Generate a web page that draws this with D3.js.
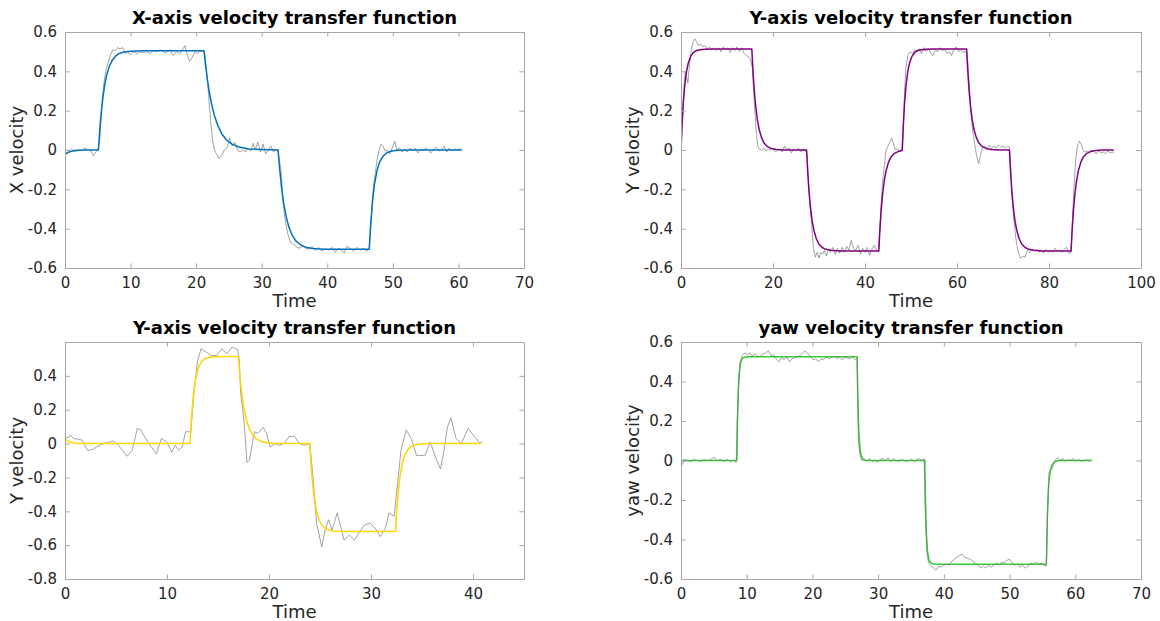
<!DOCTYPE html>
<html><head><meta charset="utf-8">
<script src="https://cdn.jsdelivr.net/npm/d3@7"></script>
<style>
html,body{margin:0;padding:0;background:#fff;}
svg{display:block;font-family:"DejaVu Sans",sans-serif;}
</style></head>
<body>
<svg id="chart" width="1160" height="621"></svg>
<script>
// ---------- Panel 1 : X-axis ----------
const p1Titles = ["X-axis velocity transfer function", "X velocity", "Time"];
const p1XTicks = [0, 10, 20, 30, 40, 50, 60, 70];
const p1YTicks = [-0.6, -0.4, -0.2, 0, 0.2, 0.4, 0.6];
const p1ModelT = [0,0.5,1,1.5,2,3,4,5.1,5.3,5.5,5.8,6.1,6.4,6.8,7.2,7.7,8.3,9,10,12,21.2,21.4,21.7,22,22.4,22.8,23.3,23.9,24.6,25.4,26.5,28,32.5,32.7,33,33.3,33.7,34.1,34.6,35.2,35.9,36.7,37.8,39.5,46.4,46.6,46.9,47.2,47.6,48,48.5,49.1,49.8,50.8,52.5,60.5];
const p1ModelV = [-0.022,-0.012,-0.006,-0.003,-0.0015,0,0,0,0.101,0.181,0.273,0.339,0.386,0.429,0.456,0.477,0.491,0.498,0.502,0.505,0.505,0.442,0.362,0.296,0.227,0.174,0.125,0.083,0.052,0.031,0.015,0.005,0,-0.084,-0.184,-0.261,-0.335,-0.387,-0.430,-0.462,-0.482,-0.494,-0.501,-0.505,-0.505,-0.387,-0.259,-0.174,-0.102,-0.060,-0.031,-0.014,-0.005,-0.0015,0,0];
const p1DataT = [0,0.5,1,1.5,2,2.5,3,3.5,4,4.3,4.7,5,5.3,5.6,5.9,6.2,6.6,7,7.3,7.7,8,8.4,8.8,9.2,9.6,10,10.5,11,11.5,12,12.5,13,13.5,14,14.5,15,15.5,16,16.5,17,17.5,18,18.3,18.6,19,19.4,19.8,20.2,20.6,21,21.3,21.6,21.9,22.2,22.5,22.8,23.1,23.5,23.9,24.3,24.7,25.1,25.5,25.9,26.3,26.7,27.1,27.5,27.9,28.3,28.7,29,29.4,29.8,30.2,30.6,31,31.4,31.8,32.2,32.5,32.7,33,33.3,33.6,34,34.4,34.8,35.2,35.7,36.2,36.7,37.2,37.7,38.2,38.7,39.2,39.7,40.2,40.7,41.2,41.7,42.2,42.6,43,43.5,44,44.5,45,45.5,46,46.4,46.7,47,47.3,47.6,47.9,48.2,48.5,48.8,49.1,49.5,49.9,50.3,50.6,51,51.4,51.8,52.2,52.6,53,53.4,53.8,54.2,54.6,55,55.4,55.8,56.2,56.6,57,57.4,57.8,58.2,58.6,59,59.4,59.8,60.2,60.5];
const p1DataV = [-0.015,-0.01,0.005,-0.01,0,-0.005,0.01,0,-0.005,-0.03,-0.01,0,0.05,0.22,0.33,0.4,0.45,0.49,0.51,0.505,0.52,0.515,0.52,0.49,0.5,0.485,0.5,0.49,0.5,0.495,0.5,0.49,0.505,0.5,0.51,0.5,0.495,0.51,0.48,0.5,0.49,0.515,0.53,0.49,0.45,0.47,0.5,0.49,0.505,0.5,0.49,0.4,0.28,0.15,0.05,0,-0.02,-0.045,-0.03,0,0.01,0.06,0.02,0.04,0,-0.01,0,-0.01,0.01,-0.005,0.035,0,0.04,-0.01,0.03,-0.02,0,0.02,-0.01,0,-0.01,-0.05,-0.12,-0.28,-0.36,-0.43,-0.47,-0.48,-0.49,-0.5,-0.49,-0.5,-0.505,-0.49,-0.51,-0.495,-0.515,-0.5,-0.51,-0.495,-0.52,-0.5,-0.51,-0.525,-0.49,-0.5,-0.515,-0.495,-0.51,-0.5,-0.515,-0.5,-0.35,-0.2,-0.12,-0.05,0,0.03,0.02,-0.005,0,-0.02,0.01,0.045,0,0.01,-0.01,0.005,-0.01,0.01,-0.005,0.01,-0.015,0.005,-0.005,0.01,0,-0.015,0.005,0.015,-0.005,0,0.02,-0.01,0.01,-0.005,0.005,0,0.005,0];

// ---------- Panel 2 : Y-axis ----------
const p2Titles = ["Y-axis velocity transfer function", "Y velocity", "Time"];
const p2XTicks = [0, 20, 40, 60, 80, 100];
const p2YTicks = [-0.6, -0.4, -0.2, 0, 0.2, 0.4, 0.6];
const p2ModelT = [0,0.2,0.5,0.8,1.2,1.6,2.1,2.7,3.4,4.2,5.3,7,15.4,15.6,15.9,16.2,16.6,17,17.5,18.1,18.8,19.6,20.7,22.4,27.3,27.5,27.8,28.1,28.5,28.9,29.4,30,30.7,31.5,32.6,34.3,43,43.2,43.5,43.8,44.2,44.6,45.1,45.7,46.4,47.2,48.1,48.3,48.6,48.9,49.3,49.7,50.2,50.8,51.5,52.3,53.4,55.1,62.1,62.3,62.6,62.9,63.3,63.7,64.2,64.8,65.5,66.3,67.4,69.1,71.4,71.6,71.9,72.2,72.6,73,73.5,74.1,74.8,75.6,76.7,78.4,84.8,85,85.3,85.6,86,86.4,86.9,87.5,88.2,89,90.1,91.8,94.1];
const p2ModelV = [0,0.113,0.239,0.324,0.399,0.444,0.476,0.496,0.506,0.51,0.512,0.513,0.513,0.42,0.311,0.23,0.154,0.104,0.063,0.034,0.017,0.008,0.003,0,0,-0.093,-0.202,-0.283,-0.359,-0.409,-0.45,-0.479,-0.496,-0.505,-0.51,-0.513,-0.513,-0.42,-0.311,-0.23,-0.154,-0.104,-0.063,-0.034,-0.017,-0.008,-0.003,0.113,0.239,0.324,0.399,0.444,0.476,0.496,0.506,0.51,0.512,0.513,0.513,0.42,0.311,0.23,0.154,0.104,0.063,0.034,0.017,0.008,0.003,0,0,-0.093,-0.202,-0.283,-0.359,-0.409,-0.45,-0.479,-0.496,-0.505,-0.51,-0.513,-0.513,-0.42,-0.311,-0.23,-0.154,-0.104,-0.063,-0.034,-0.017,-0.008,-0.003,0,0];
const p2DataT = [0,0.3,0.6,0.9,1.2,1.5,1.8,2.2,2.6,3,3.4,3.8,4.2,4.7,5.2,5.7,6.2,6.7,7.2,7.7,8.2,8.7,9.2,9.7,10.2,10.7,11.2,11.7,12.2,12.7,13.2,13.7,14.2,14.7,15.1,15.5,15.8,16.1,16.4,16.7,17,17.5,18,18.5,19,19.5,20,20.5,21,21.5,22,22.5,23,23.5,24,24.5,25,25.5,26,26.5,27,27.4,27.7,28,28.4,28.8,29.2,29.6,30,30.4,30.8,31.2,31.6,32,32.5,33,33.5,34,34.5,35,35.5,36,36.5,37,37.5,38,38.5,39,39.5,40,40.5,41,41.5,42,42.5,42.9,43.2,43.5,43.8,44.2,44.6,45,45.4,45.8,46.2,46.6,47,47.5,48,48.3,48.6,48.9,49.3,49.8,50.3,50.8,51.3,51.8,52.3,52.8,53.3,53.8,54.3,54.8,55.3,55.8,56.3,56.8,57.3,57.8,58.3,58.8,59.3,59.8,60.3,60.8,61.3,61.8,62.2,62.6,63,63.4,63.8,64.2,64.7,65.1,65.5,66,66.5,67,67.5,68,68.5,69,69.5,70,70.5,71,71.4,71.7,72,72.4,72.8,73.3,73.8,74.3,74.8,75.3,75.8,76.3,76.8,77.3,77.8,78.3,78.8,79.3,79.8,80.3,80.8,81.3,81.8,82.3,82.8,83.3,83.8,84.3,84.8,85.1,85.4,85.8,86.2,86.6,87,87.4,87.8,88.3,88.8,89.3,89.8,90.3,90.8,91.3,91.8,92.3,92.8,93.3,93.8,94.1];
const p2DataV = [0,0.15,0.3,0.4,0.37,0.34,0.42,0.5,0.55,0.565,0.55,0.53,0.54,0.525,0.53,0.515,0.525,0.51,0.52,0.505,0.52,0.5,0.525,0.51,0.52,0.495,0.52,0.505,0.525,0.5,0.52,0.49,0.48,0.475,0.46,0.42,0.3,0.18,0.08,0.02,0.005,0,0.01,-0.005,0.005,0,0.01,-0.01,0,0.005,-0.01,0.02,0,0.01,-0.015,0.005,-0.005,0.01,-0.01,0.005,0,-0.02,-0.15,-0.27,-0.38,-0.5,-0.545,-0.52,-0.55,-0.52,-0.53,-0.51,-0.54,-0.505,-0.52,-0.495,-0.53,-0.5,-0.525,-0.495,-0.52,-0.49,-0.51,-0.46,-0.5,-0.51,-0.485,-0.53,-0.5,-0.52,-0.495,-0.535,-0.505,-0.485,-0.51,-0.52,-0.42,-0.28,-0.17,-0.08,0,0.02,0.04,0.06,0.03,0,0.005,-0.005,0,0.08,0.3,0.42,0.48,0.5,0.49,0.51,0.5,0.515,0.49,0.52,0.5,0.515,0.49,0.48,0.51,0.5,0.52,0.505,0.51,0.49,0.5,0.48,0.51,0.525,0.5,0.51,0.495,0.5,0.49,0.35,0.2,0.1,0.035,-0.02,-0.07,-0.03,0.01,0.02,0.01,0.025,0.005,0.02,0.01,0.025,0.015,0.02,0.01,0.02,0.015,-0.1,-0.25,-0.36,-0.45,-0.52,-0.55,-0.54,-0.545,-0.51,-0.52,-0.505,-0.515,-0.505,-0.52,-0.51,-0.525,-0.505,-0.52,-0.51,-0.52,-0.5,-0.515,-0.51,-0.52,-0.505,-0.495,-0.525,-0.52,-0.35,-0.2,-0.05,0.02,0.045,0.03,0,-0.01,-0.005,-0.015,0,-0.01,-0.02,-0.005,-0.015,-0.01,-0.02,-0.005,-0.015,-0.01,-0.015];

// ---------- Panel 3 : Y-axis (second run) ----------
const p3Titles = ["Y-axis velocity transfer function", "Y velocity", "Time"];
const p3XTicks = [0, 10, 20, 30, 40];
const p3YTicks = [-0.8, -0.6, -0.4, -0.2, 0, 0.2, 0.4];
const p3ModelT = [0,0.2,0.4,0.7,1,1.5,12.26,12.36,12.46,12.61,12.76,12.96,13.16,13.46,13.86,14.46,15.26,17,17.15,17.3,17.5,17.75,18.05,18.4,18.8,19.4,20.3,21.5,24,24.1,24.2,24.35,24.5,24.7,24.9,25.2,25.6,26.2,27.2,32.4,32.5,32.6,32.75,32.9,33.1,33.3,33.6,34,34.6,35.6,40.8];
const p3ModelV = [0.03,0.018,0.011,0.005,0.002,0,0,0.114,0.202,0.3,0.367,0.425,0.461,0.489,0.506,0.513,0.515,0.515,0.401,0.312,0.224,0.148,0.09,0.05,0.026,0.009,0.002,0,0,-0.103,-0.187,-0.281,-0.349,-0.41,-0.45,-0.484,-0.505,-0.516,-0.52,-0.52,-0.417,-0.333,-0.239,-0.171,-0.11,-0.07,-0.036,-0.015,-0.004,0,0];
const p3DataT = [0,0.34,0.51,0.84,1.35,1.69,2.2,2.7,3.38,4.05,4.73,5.24,6.08,6.59,7.09,7.43,8.11,8.95,9.46,9.97,10.47,10.81,11.15,11.49,11.82,12.33,12.67,13,13.34,13.85,14.36,14.86,15.37,15.88,16.39,16.89,17.06,17.23,17.57,17.84,18.07,18.58,18.92,19.43,19.76,20.1,20.61,20.95,21.45,21.96,22.47,22.97,23.48,23.99,24.32,24.66,25.17,25.51,25.84,26.18,26.69,27.03,27.36,27.87,28.38,28.89,29.39,29.9,30.41,30.91,31.42,31.76,32.26,32.6,32.94,33.45,33.95,34.46,35.3,35.81,36.32,36.82,37.16,37.5,37.84,38.34,38.85,39.53,40.03,40.71,40.88];
const p3DataV = [0.04,0.035,0.05,0.03,0.025,0.02,-0.04,-0.035,-0.01,0.005,0.015,-0.01,-0.075,-0.04,0.09,0.08,0.01,-0.06,0.03,0.01,-0.05,-0.01,-0.04,-0.02,0.07,0.07,0.315,0.49,0.56,0.54,0.52,0.52,0.56,0.53,0.57,0.555,0.51,0.295,0.12,-0.11,-0.1,0.07,0.06,0.095,0.06,-0.02,0,-0.01,0,0.04,0.045,0,-0.01,0,-0.2,-0.47,-0.61,-0.51,-0.45,-0.51,-0.41,-0.49,-0.57,-0.54,-0.57,-0.52,-0.48,-0.47,-0.5,-0.55,-0.5,-0.41,-0.43,-0.24,-0.04,0.08,0.03,-0.07,-0.07,0.01,-0.08,-0.15,-0.04,0.1,0.15,0.03,0,0.09,0.05,0,0.015];

// ---------- Panel 4 : yaw ----------
const p4Titles = ["yaw velocity transfer function", "yaw velocity", "Time"];
const p4XTicks = [0, 10, 20, 30, 40, 50, 60, 70];
const p4YTicks = [-0.6, -0.4, -0.2, 0, 0.2, 0.4, 0.6];
const p4ModelT = [0,8.5,8.6,8.75,8.9,9.1,9.4,9.8,10.5,26.8,26.9,27.05,27.2,27.4,27.7,28.1,28.8,37.1,37.2,37.35,37.5,37.7,38,38.4,39.1,55.6,55.75,55.95,56.2,56.5,56.9,57.5,62.5];
const p4ModelV = [0,0,0.206,0.374,0.454,0.499,0.519,0.524,0.525,0.525,0.319,0.151,0.071,0.026,0.006,0.001,0,0,-0.206,-0.374,-0.454,-0.499,-0.519,-0.524,-0.525,-0.525,-0.28,-0.12,-0.05,-0.02,-0.006,0,0];
const p4DataT = [0,0.2,0.5,1,1.5,2,2.5,3,3.5,4,4.5,5,5.5,6,6.5,7,7.5,8,8.4,8.6,8.8,9,9.3,9.7,10.1,10.5,10.9,11.3,11.7,12.1,12.5,12.9,13.3,13.7,14.1,14.5,14.9,15.3,15.7,16.1,16.5,16.9,17.3,17.7,18.1,18.5,18.9,19.3,19.7,20.1,20.5,20.9,21.3,21.7,22.1,22.5,22.9,23.3,23.7,24.1,24.5,24.9,25.3,25.7,26.1,26.5,26.8,27,27.2,27.5,27.9,28.3,28.7,29.1,29.5,29.9,30.3,30.7,31.1,31.5,31.9,32.3,32.7,33.1,33.5,33.9,34.3,34.7,35.1,35.5,35.9,36.3,36.7,37,37.2,37.45,37.7,38,38.4,38.8,39.2,39.6,40,40.4,40.8,41.2,41.6,42,42.4,42.8,43.2,43.6,44,44.4,44.8,45.2,45.6,46,46.4,46.8,47.2,47.6,48,48.4,48.8,49.2,49.6,50,50.4,50.8,51.2,51.6,52,52.4,52.8,53.2,53.6,54,54.4,54.8,55.2,55.6,55.8,56,56.3,56.6,56.9,57.3,57.7,58.1,58.5,58.9,59.3,59.7,60.1,60.5,60.9,61.3,61.7,62.1,62.5];
const p4DataV = [-0.01,-0.02,0.005,0,-0.005,0.005,0,-0.005,0.005,0,0.005,0.015,0,0.005,-0.005,0.005,-0.005,0,-0.01,0.25,0.42,0.5,0.53,0.545,0.535,0.545,0.53,0.54,0.525,0.53,0.54,0.545,0.555,0.53,0.535,0.515,0.5,0.52,0.51,0.525,0.5,0.515,0.52,0.525,0.53,0.545,0.555,0.54,0.525,0.51,0.515,0.5,0.515,0.51,0.525,0.515,0.52,0.53,0.515,0.525,0.51,0.525,0.52,0.515,0.525,0.51,0.52,0.1,0.03,0,0.005,-0.005,0.01,-0.005,0,-0.01,0.005,0.01,0,0.015,-0.005,0.01,0,-0.005,0.005,0,-0.005,0,0.005,-0.005,0.005,0.01,0,0.01,-0.3,-0.48,-0.52,-0.53,-0.545,-0.555,-0.535,-0.54,-0.53,-0.525,-0.53,-0.51,-0.5,-0.49,-0.48,-0.475,-0.49,-0.495,-0.5,-0.51,-0.52,-0.53,-0.545,-0.535,-0.545,-0.53,-0.54,-0.53,-0.52,-0.53,-0.515,-0.52,-0.505,-0.5,-0.52,-0.53,-0.525,-0.54,-0.53,-0.545,-0.535,-0.52,-0.525,-0.515,-0.525,-0.52,-0.53,-0.535,-0.25,-0.06,-0.05,-0.03,0,0.015,0,0.01,-0.005,0.005,0,0.01,-0.005,0.005,-0.005,0,0.005,-0.005,0.01];

const svg = d3.select("#chart");
const AXIS_COLOR = "#a6a6a6";
const TEXT_COLOR = "#262626";

function fmt(v) {
  const r = Math.round(v * 10) / 10;
  return r === 0 ? "0" : String(r);
}

function panel(opt) {
  const {x0, x1, y0, y1, xDomain, yDomain, xTicks, yTicks, titles,
         modelT, modelV, dataT, dataV, color, dataOnTop} = opt;
  const x = d3.scaleLinear().domain(xDomain).range([x0, x1]);
  const y = d3.scaleLinear().domain(yDomain).range([y1, y0]);
  const g = svg.append("g");
  const tl = 4.6;

  const clipId = "clip" + Math.round(x0) + "_" + Math.round(y0);
  svg.append("clipPath").attr("id", clipId).append("rect")
    .attr("x", x0).attr("y", y0).attr("width", x1 - x0).attr("height", y1 - y0);

  const lineModel = d3.line().x((d, i) => x(modelT[i])).y(d => y(d));
  const lineData = d3.line().x((d, i) => x(dataT[i])).y(d => y(d));
  const plot = g.append("g").attr("clip-path", `url(#${clipId})`);

  const drawData = () => plot.append("path").attr("d", lineData(dataV))
    .attr("fill", "none").attr("stroke", "#7a7a7a").attr("stroke-width", 0.7)
    .attr("stroke-linejoin", "round");
  const drawModel = () => plot.append("path").attr("d", lineModel(modelV))
    .attr("fill", "none").attr("stroke", color).attr("stroke-width", 1.5)
    .attr("stroke-linejoin", "round");
  if (dataOnTop) { drawModel(); drawData(); } else { drawData(); drawModel(); }

  const axB = d3.axisBottom(x).tickValues(xTicks).tickSizeInner(-tl).tickSizeOuter(0).tickPadding(9).tickFormat(fmt);
  const axT = d3.axisTop(x).tickValues(xTicks).tickSizeInner(-tl).tickSizeOuter(0).tickFormat("");
  const axL = d3.axisLeft(y).tickValues(yTicks).tickSizeInner(-tl).tickSizeOuter(0).tickPadding(8).tickFormat(fmt);
  const axR = d3.axisRight(y).tickValues(yTicks).tickSizeInner(-tl).tickSizeOuter(0).tickFormat("");

  const style = sel => {
    sel.selectAll(".domain").attr("stroke", AXIS_COLOR).attr("stroke-width", 1);
    sel.selectAll(".tick line").attr("stroke", AXIS_COLOR).attr("stroke-width", 1);
    sel.selectAll(".tick text").attr("fill", TEXT_COLOR)
      .style("font-family", "'DejaVu Sans', sans-serif").style("font-size", "15px");
  };
  g.append("g").attr("transform", `translate(0,${y1})`).call(axB).call(style);
  g.append("g").attr("transform", `translate(0,${y0})`).call(axT).call(style);
  g.append("g").attr("transform", `translate(${x0},0)`).call(axL).call(style);
  g.append("g").attr("transform", `translate(${x1},0)`).call(axR).call(style);

  // title
  g.append("text").attr("x", (x0 + x1) / 2).attr("y", y0 - 8)
    .attr("text-anchor", "middle").attr("fill", "#000")
    .style("font-size", "18px").style("font-weight", "bold").text(titles[0]);
  // y label
  g.append("text").attr("transform", `translate(${x0 - 42},${(y0 + y1) / 2}) rotate(-90)`)
    .attr("text-anchor", "middle").attr("fill", TEXT_COLOR)
    .style("font-size", "18px").text(titles[1]);
  // x label
  g.append("text").attr("x", (x0 + x1) / 2).attr("y", y1 + 39)
    .attr("text-anchor", "middle").attr("fill", TEXT_COLOR)
    .style("font-size", "18px").text(titles[2]);
}

panel({x0: 65, x1: 524, y0: 32, y1: 268, xDomain: [0, 70], yDomain: [-0.6, 0.6],
  xTicks: p1XTicks, yTicks: p1YTicks, titles: p1Titles,
  modelT: p1ModelT, modelV: p1ModelV, dataT: p1DataT, dataV: p1DataV, color: "#0072BD"});
panel({x0: 681, x1: 1141, y0: 32, y1: 268, xDomain: [0, 100], yDomain: [-0.6, 0.6],
  xTicks: p2XTicks, yTicks: p2YTicks, titles: p2Titles,
  modelT: p2ModelT, modelV: p2ModelV, dataT: p2DataT, dataV: p2DataV, color: "#800080"});
panel({x0: 65, x1: 524, y0: 342, y1: 579, xDomain: [0, 45], yDomain: [-0.8, 0.6],
  xTicks: p3XTicks, yTicks: p3YTicks, titles: p3Titles,
  modelT: p3ModelT, modelV: p3ModelV, dataT: p3DataT, dataV: p3DataV, color: "#FFD500"});
panel({x0: 681, x1: 1141, y0: 342, y1: 579, xDomain: [0, 70], yDomain: [-0.6, 0.6],
  xTicks: p4XTicks, yTicks: p4YTicks, titles: p4Titles,
  modelT: p4ModelT, modelV: p4ModelV, dataT: p4DataT, dataV: p4DataV, color: "#33CC33", dataOnTop: true});
</script>
</body></html>
